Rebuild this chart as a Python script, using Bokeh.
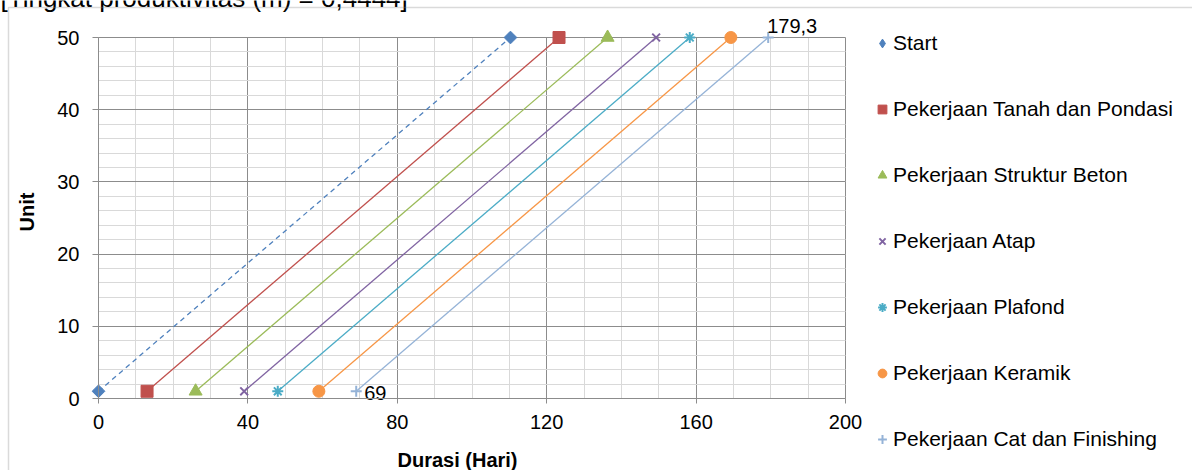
import math
from bokeh.plotting import figure
from bokeh.models import (Range1d, SingleIntervalTicker, Legend, LegendItem, Label,
                          BoxAnnotation, ColumnDataSource)
from bokeh.core.properties import value
from bokeh.embed import file_html
from bokeh.resources import INLINE

# ---- data ----
series_names = ["Start", "Pekerjaan Tanah dan Pondasi", "Pekerjaan Struktur Beton",
                "Pekerjaan Atap", "Pekerjaan Plafond", "Pekerjaan Keramik",
                "Pekerjaan Cat dan Finishing"]
start_day = [0, 13, 26, 39, 48, 59, 69]
end_day = [110.3, 123.3, 136.3, 149.3, 158.3, 169.3, 179.3]
start_unit = [1, 1, 1, 1, 1, 1, 1]
end_unit = [50, 50, 50, 50, 50, 50, 50]
point_labels = ["69", "179,3"]
title_text = "[Tingkat produktivitas (m) = 0,4444]"
x_title = "Durasi (Hari)"
y_title = "Unit"
x_axis_max = 200
y_axis_max = 50

colors = ["#4F81BD", "#C0504D", "#9BBB59", "#8064A2", "#4BACC6", "#F79646", "#95B3D7"]
markers = ["square", "square", "triangle", "x", "asterisk", "circle", "cross"]
legend_markers = ["diamond", "square", "triangle", "x", "asterisk", "circle", "cross"]
msizes = [9, 12, 13, 11, 11, 12, 11]
angles = [math.pi / 4, 0, 0, 0, 0, 0, 0]

FONT = "Liberation Sans"
W, H = 1192, 470
# plot-area pixel box inside the canvas
PL, PR, PT, PB = 98, 845, 37, 398
sx = (PR - PL) / x_axis_max
sy = (PB - PT) / y_axis_max

p = figure(width=W, height=H, output_backend="svg", toolbar_location=None,
           x_range=Range1d(-PL / sx, (W - PL) / sx),
           y_range=Range1d(-(H - PB) / sy, PB / sy),
           min_border=0, min_border_left=0, min_border_right=0,
           min_border_top=0, min_border_bottom=0)
p.title.visible = False
p.background_fill_color = "white"
p.border_fill_color = "white"
p.outline_line_color = None

# axes (fixed at data 0, so they take no side space)
p.xaxis.ticker = SingleIntervalTicker(interval=40, num_minor_ticks=4)
p.yaxis.ticker = SingleIntervalTicker(interval=10, num_minor_ticks=5)
p.xaxis.fixed_location = 0
p.yaxis.fixed_location = 0
p.xaxis.bounds = (0, x_axis_max)
p.yaxis.bounds = (0, y_axis_max)
for ax in (p.xaxis[0], p.yaxis[0]):
    ax.axis_line_color = "#8c8c8c"
    ax.major_tick_line_color = "#8c8c8c"
    ax.major_tick_in = 0
    ax.minor_tick_in = 0
    ax.minor_tick_out = 0
    ax.major_label_text_font = FONT
    ax.major_label_text_font_size = "20px"
    ax.major_label_text_color = "black"
p.xaxis.major_tick_out = 5
p.yaxis.major_tick_out = 6
p.xaxis.major_label_standoff = 11
p.yaxis.major_label_standoff = 13

p.xgrid.grid_line_color = "#8c8c8c"
p.ygrid.grid_line_color = "#8c8c8c"
p.xgrid.minor_grid_line_color = "#d9d9d9"
p.ygrid.minor_grid_line_color = "#d9d9d9"
p.xgrid.bounds = (0, x_axis_max)
p.ygrid.bounds = (0, y_axis_max)
p.xgrid.cross_bounds = (0, y_axis_max)
p.ygrid.cross_bounds = (0, x_axis_max)

legend_items = []
for i, name in enumerate(series_names):
    src = ColumnDataSource(dict(x=[start_day[i], end_day[i]], y=[start_unit[i], end_unit[i]]))
    p.line("x", "y", source=src, line_color=colors[i], line_width=1.3,
           line_dash="5 4" if i == 0 else "solid")
    lw = 2 if markers[i] in ("x", "asterisk", "cross") else 1
    leg_r = None
    if legend_markers[i] != markers[i]:
        # glyph used for the legend; hidden under the rotated square in the plot
        leg_r = p.scatter("x", "y", source=src, marker=legend_markers[i], size=11,
                          fill_color=colors[i], line_color=colors[i], line_width=lw)
    r = p.scatter("x", "y", source=src, marker=markers[i], size=msizes[i], angle=angles[i],
                  fill_color=colors[i], line_color=colors[i], line_width=lw)
    legend_items.append(LegendItem(label=name, renderers=[leg_r if leg_r is not None else r]))

# point labels
p.text(x=[start_day[-1]], y=[start_unit[-1]], text=[point_labels[0]],
       text_font=value(FONT), text_font_size="20px", text_color="black",
       text_align="left", text_baseline="middle", x_offset=8, y_offset=2)
p.text(x=[end_day[-1]], y=[end_unit[-1]], text=[point_labels[1]],
       text_font=value(FONT), text_font_size="20px", text_color="black",
       text_align="left", text_baseline="middle", x_offset=-1, y_offset=-12)

legend = Legend(items=legend_items, location=(871, 18), orientation="vertical",
                glyph_width=22, glyph_height=26, label_standoff=0, spacing=40,
                padding=0, margin=0, border_line_color=None, background_fill_alpha=0,
                label_text_font=FONT, label_text_font_size="21px", label_text_color="black")
p.add_layout(legend, "center")

# axis titles (screen units measured from canvas bottom-left)
p.add_layout(Label(x=457, y=H - 459, x_units="screen", y_units="screen", text=x_title,
                   text_font=FONT, text_font_size="20px", text_font_style="bold",
                   text_align="center", text_baseline="middle", text_color="black"))
p.add_layout(Label(x=26, y=H - 211.5, x_units="screen", y_units="screen", text=y_title,
                   angle=math.pi / 2, text_font=FONT, text_font_size="20px",
                   text_font_style="bold", text_align="center", text_baseline="middle",
                   text_color="black"))
# title, cut by the top edge as in the reference
p.add_layout(Label(x=0, y=H + 3, x_units="screen", y_units="screen", text=title_text,
                   text_font=FONT, text_font_size="26px", text_align="left",
                   text_baseline="middle", text_color="black"))
# chart area border
p.add_layout(BoxAnnotation(left=8, right=W + 20, top=H - 7, bottom=-20,
                           left_units="screen", right_units="screen",
                           top_units="screen", bottom_units="screen",
                           fill_alpha=0, line_color="#868686", line_width=1.5))

open("out.html", "w").write(file_html(p, INLINE))
